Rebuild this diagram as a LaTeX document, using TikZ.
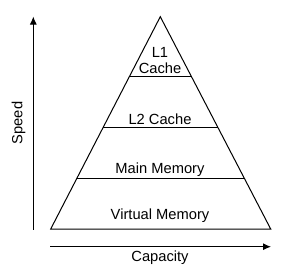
\documentclass[tikz,border=0pt]{standalone}
\usepackage{fontspec}
\setmainfont{Liberation Sans}
\usetikzlibrary{calc,positioning,arrows.meta}

\begin{document}
\begin{tikzpicture}[
    x=1pt, y=-1pt,
    level/.style={font=\fontsize{14.7}{16}\selectfont, inner sep=1pt, align=center},
    axis/.style={-{Latex[length=8pt,width=7pt]}, line width=1pt, draw=black},
    edge/.style={line width=1pt, draw=black}
  ]
    \useasboundingbox (0,0) rectangle (289,277);

    % pyramid corners
    \coordinate (top) at (160.3,16.7);
    \coordinate (bl) at (50.7,229);
    \coordinate (br) at (270.7,229);
    \draw[edge, line join=miter] (top) -- (bl) -- (br) -- cycle;

    % layer borders
    \draw[line width=0.8pt] ($(top)!0.281!(bl)$) -- ($(top)!0.281!(br)$);
    \draw[line width=0.8pt] ($(top)!0.521!(bl)$) -- ($(top)!0.521!(br)$);
    \draw[line width=0.8pt] ($(top)!0.761!(bl)$) -- ($(top)!0.761!(br)$);

    \node[level] (l1) at (160,60.5) {L1\\Cache};
    \node[level] (l2) at (160,119) {L2 Cache};
    \node[level] (main) at (160,170) {Main Memory};
    \node[level] (virt) at (160,215.5) {Virtual Memory};

    % axes
    \coordinate (s0) at (33.3,229.5);
    \coordinate (s1) at (33.3,16.5);
    \coordinate (c0) at (50,246.7);
    \coordinate (c1) at (271,246.7);
    \draw[axis] (s0) -- (s1);
    \draw[axis] (c0) -- (c1);
    \node[level, rotate=90] (speed) at (18.5,123) {Speed};
    \node[level] (capacity) at (160,257.5) {Capacity};
  \end{tikzpicture}
\end{document}
